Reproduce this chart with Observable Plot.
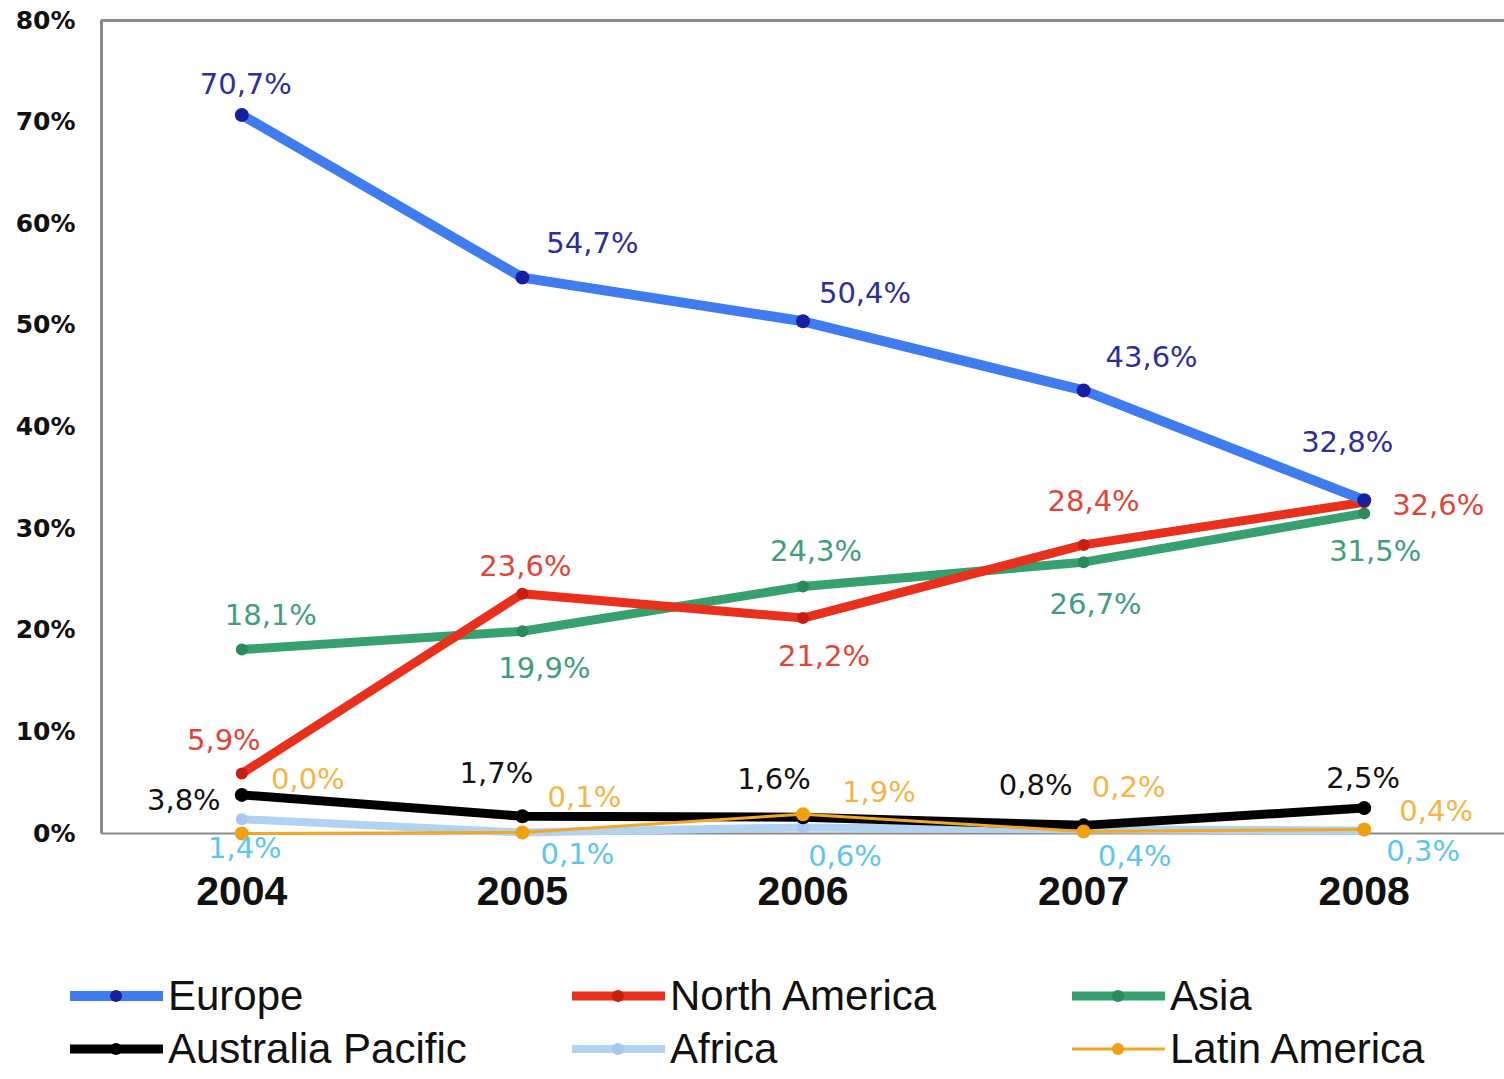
<!DOCTYPE html>
<html>
<head>
<meta charset="utf-8">
<script src="https://cdn.jsdelivr.net/npm/d3@7"></script>
<script src="https://cdn.jsdelivr.net/npm/@observablehq/plot@0.6"></script>
<style>
  html, body { margin: 0; padding: 0; background: #fff; }
  #chart svg { display: block; }
  #legend { position: relative; width: 1504px; height: 139px; overflow: hidden; font-family: "Liberation Sans", Arial, sans-serif; }
  .item { position: absolute; display: flex; align-items: center; height: 42px; }
  .item span { font-size: 42px; line-height: 1; color: #111; margin-left: 5px; white-space: nowrap; }
</style>
</head>
<body>
<div id="chart"></div>
<div id="legend"></div>
<script>
// ---- data ----
const years = [2004, 2005, 2006, 2007, 2008];
const seriesNames = ["Europe", "North America", "Asia", "Australia Pacific", "Africa", "Latin America"];
const europe = [70.7, 54.7, 50.4, 43.6, 32.8];
const northAmerica = [5.9, 23.6, 21.2, 28.4, 32.6];
const asia = [18.1, 19.9, 24.3, 26.7, 31.5];
const australiaPacific = [3.8, 1.7, 1.6, 0.8, 2.5];
const africa = [1.4, 0.1, 0.6, 0.4, 0.3];
const latinAmerica = [0.0, 0.1, 1.9, 0.2, 0.4];
const yTicks = [0, 10, 20, 30, 40, 50, 60, 70, 80];

// ---- styling / layout (kept separate from data) ----
const styles = {
  "Europe":            {line: "#3f7cf0", dot: "#14209e", text: "#2e2e9a", width: 10, r: 7},
  "North America":     {line: "#e8301c", dot: "#c81e10", text: "#e04535", width: 9, r: 6},
  "Asia":              {line: "#36a06e", dot: "#2a8a5a", text: "#3f9e7e", width: 9, r: 6},
  "Australia Pacific": {line: "#000000", dot: "#000000", text: "#111111", width: 9, r: 7},
  "Africa":            {line: "#b2d2f2", dot: "#a4c8ee", text: "#5cc6ee", width: 8, r: 6},
  "Latin America":     {line: "#f5a623", dot: "#f0a010", text: "#f5b445", width: 3, r: 7}
};
const labelOffsets = {
  "Europe":            [[4,-30],[70,-34],[62,-28],[68,-33],[-17,-57]],
  "North America":     [[-18,-33],[3,-27],[21,39],[10,-43],[74,4]],
  "Asia":              [[29,-34],[22,37],[13,-35],[12,43],[11,38]],
  "Australia Pacific": [[-58,6],[-26,-43],[-29,-38],[-48,-40],[-1,-29]],
  "Africa":            [[3,29],[55,22],[42,29],[51,27],[59,21]],
  "Latin America":     [[66,-54],[62,-35],[76,-21],[45,-44],[72,-18]]
};
const valuesBySeries = {
  "Europe": europe, "North America": northAmerica, "Asia": asia,
  "Australia Pacific": australiaPacific, "Africa": africa, "Latin America": latinAmerica
};
const drawOrder = ["Africa", "Asia", "North America", "Europe", "Australia Pacific", "Latin America"];

const rows = s => years.map((yr, i) => ({year: yr, value: valuesBySeries[s][i], series: s}));
const fmt = v => v.toFixed(1).replace(".", ",") + "%";

const marks = [
  Plot.ruleY([0], {stroke: "#8a8a8a", strokeWidth: 2}),
  Plot.ruleY([80], {stroke: "#8a8a8a", strokeWidth: 3}),
  Plot.ruleX([2003.5], {stroke: "#8a8a8a", strokeWidth: 3}),
  Plot.axisY({ticks: yTicks, tickSize: 0, tickPadding: 26, tickFormat: d => d + "%", label: null,
              fontSize: 25, fontWeight: "bold", fontFamily: "DejaVu Sans, Verdana, sans-serif", fill: "#111"}),
  Plot.axisX({ticks: years, tickSize: 0, tickPadding: 42, tickFormat: d => String(d), label: null,
              fontSize: 41, fontWeight: "bold", fontFamily: "Liberation Sans, Arial, sans-serif", fill: "#111"})
];
for (const s of drawOrder) {
  const st = styles[s];
  marks.push(Plot.line(rows(s), {x: "year", y: "value", stroke: st.line, strokeWidth: st.width, strokeLinejoin: "round", strokeLinecap: "round"}));
  marks.push(Plot.dot(rows(s), {x: "year", y: "value", fill: st.dot, r: st.r}));
}
for (const s of seriesNames) {
  const st = styles[s];
  rows(s).forEach((d, i) => {
    const [dx, dy] = labelOffsets[s][i];
    marks.push(Plot.text([d], {x: "year", y: "value", text: d => fmt(d.value), dx, dy,
      fill: st.text, fontSize: 29, fontFamily: "DejaVu Sans, Verdana, sans-serif", textAnchor: "middle"}));
  });
}

const chart = Plot.plot({
  width: 1504,
  height: 940,
  marginLeft: 101,
  marginRight: 0,
  marginTop: 20,
  marginBottom: 107,
  x: {domain: [2003.5, 2008.5], axis: null},
  y: {domain: [0, 80], axis: null},
  style: {background: "#fff", overflow: "visible"},
  marks
});
document.getElementById("chart").appendChild(chart);

// ---- legend (HTML below the SVG) ----
const legendPos = {
  "Europe": [70, 35], "North America": [572, 35], "Asia": [1072, 35],
  "Australia Pacific": [70, 88], "Africa": [572, 88], "Latin America": [1072, 88]
};
const legend = document.getElementById("legend");
for (const s of seriesNames) {
  const st = styles[s];
  const [lx, ly] = legendPos[s];
  const item = document.createElement("div");
  item.className = "item";
  item.style.left = lx + "px";
  item.style.top = ly + "px";
  item.innerHTML = `<svg width="93" height="20"><line x1="0" x2="93" y1="10" y2="10" stroke="${st.line}" stroke-width="${st.width}"/><circle cx="46" cy="10" r="${Math.min(st.r,6)}" fill="${st.dot}"/></svg><span>${s}</span>`;
  legend.appendChild(item);
}
</script>
</body>
</html>
